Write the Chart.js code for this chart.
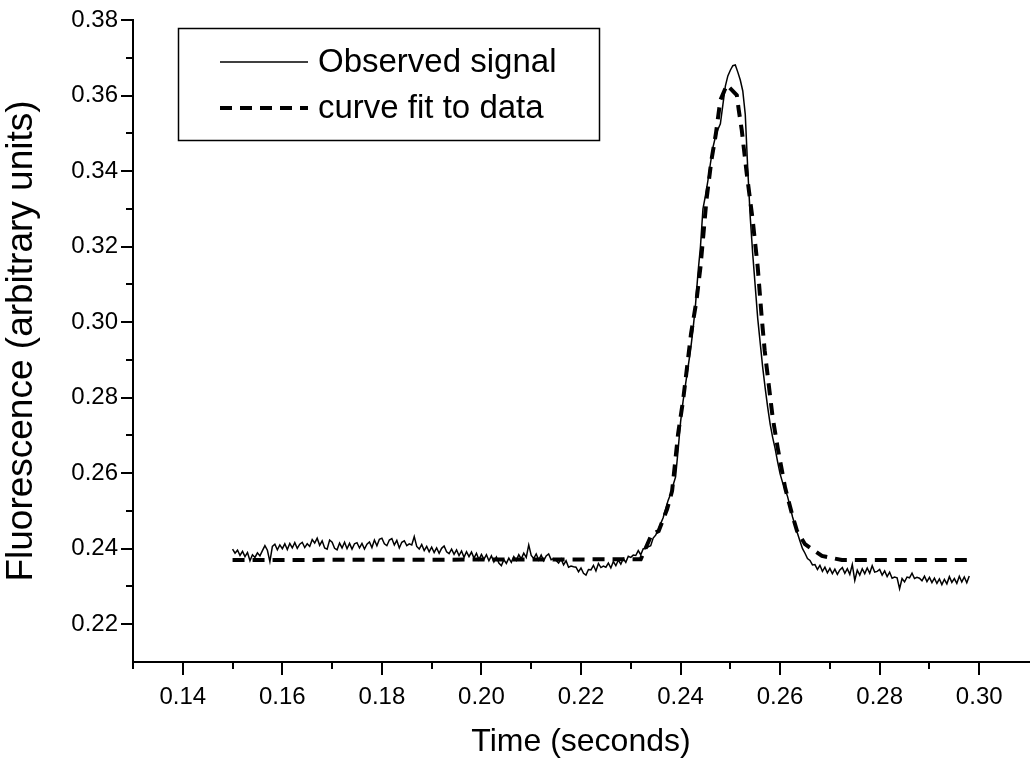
<!DOCTYPE html>
<html>
<head>
<meta charset="utf-8">
<script src="https://cdn.jsdelivr.net/npm/chart.js@4"></script>
<style>
html, body { margin: 0; padding: 0; background: #fff; }
canvas { display: block; }
</style>
</head>
<body>
<canvas id="mychart" width="1030" height="761"></canvas>
<script>
// observed signal, sampled every 0.5 ms from 0.150 s
const sigStart = 0.150;
const sigStep = 0.0005;
const signal = [
  0.2399, 0.2388, 0.2396, 0.2382, 0.2393, 0.2379, 0.2390, 0.2368, 0.2384, 0.2377,
  0.2389, 0.2381, 0.2395, 0.2408, 0.2396, 0.2366, 0.2406, 0.2412, 0.2397, 0.2410,
  0.2400, 0.2413, 0.2398, 0.2414, 0.2402, 0.2416, 0.2401, 0.2412, 0.2417, 0.2403,
  0.2413, 0.2406, 0.2424, 0.2415, 0.2428, 0.2409, 0.2421, 0.2402, 0.2399, 0.2423,
  0.2417, 0.2401, 0.2397, 0.2415, 0.2402, 0.2417, 0.2400, 0.2414, 0.2399, 0.2413,
  0.2416, 0.2402, 0.2414, 0.2399, 0.2412, 0.2418, 0.2403, 0.2423, 0.2408, 0.2425,
  0.2428, 0.2413, 0.2408, 0.2423, 0.2427, 0.2410, 0.2422, 0.2402, 0.2417, 0.2421,
  0.2408, 0.2413, 0.2410, 0.2432, 0.2406, 0.2399, 0.2411, 0.2395, 0.2406, 0.2392,
  0.2404, 0.2390, 0.2402, 0.2388, 0.2401, 0.2407, 0.2392, 0.2387, 0.2399, 0.2385,
  0.2397, 0.2382, 0.2394, 0.2377, 0.2392, 0.2379, 0.2391, 0.2375, 0.2388, 0.2371,
  0.2385, 0.2372, 0.2384, 0.2368, 0.2381, 0.2365, 0.2378, 0.2362, 0.2355, 0.2371,
  0.2361, 0.2375, 0.2364, 0.2379, 0.2369, 0.2384, 0.2373, 0.2388, 0.2377, 0.2410,
  0.2382, 0.2374, 0.2386, 0.2370, 0.2383, 0.2368, 0.2381, 0.2386, 0.2371, 0.2374,
  0.2369, 0.2362, 0.2373, 0.2357, 0.2368, 0.2351, 0.2354, 0.2352, 0.2351, 0.2339,
  0.2349, 0.2335, 0.2330, 0.2345, 0.2344, 0.2356, 0.2341, 0.2361, 0.2350, 0.2354,
  0.2351, 0.2362, 0.2349, 0.2366, 0.2355, 0.2370, 0.2359, 0.2374, 0.2364, 0.2380,
  0.2377, 0.2383, 0.2382, 0.2395, 0.2384, 0.2400, 0.2400, 0.2405, 0.2408, 0.2428,
  0.2436, 0.2450, 0.2466, 0.2482, 0.2505, 0.2528, 0.2545, 0.2568, 0.2590, 0.2660,
  0.2735, 0.2790, 0.2835, 0.2880, 0.2925, 0.2980, 0.3045, 0.3130, 0.3200, 0.3300,
  0.3335, 0.3375, 0.3420, 0.3462, 0.3490, 0.3510, 0.3525, 0.3575, 0.3625, 0.3652,
  0.3667, 0.3679, 0.3681, 0.3662, 0.3641, 0.3612, 0.3550, 0.3405, 0.3278, 0.3180,
  0.3095, 0.3010, 0.2945, 0.2880, 0.2825, 0.2775, 0.2730, 0.2695, 0.2665, 0.2630,
  0.2598, 0.2575, 0.2558, 0.2538, 0.2512, 0.2484, 0.2462, 0.2440, 0.2420, 0.2400,
  0.2388, 0.2374, 0.2369, 0.2357, 0.2358, 0.2345, 0.2356, 0.2340, 0.2351, 0.2336,
  0.2348, 0.2334, 0.2346, 0.2332, 0.2344, 0.2350, 0.2335, 0.2347, 0.2332, 0.2358,
  0.2316, 0.2343, 0.2330, 0.2347, 0.2334, 0.2349, 0.2335, 0.2355, 0.2338, 0.2340,
  0.2345, 0.2330, 0.2341, 0.2326, 0.2338, 0.2322, 0.2325, 0.2323, 0.2294, 0.2321,
  0.2312, 0.2325, 0.2323, 0.2335, 0.2321, 0.2324, 0.2322, 0.2315, 0.2327, 0.2313,
  0.2324, 0.2310, 0.2322, 0.2308, 0.2320, 0.2305, 0.2319, 0.2307, 0.2326, 0.2311,
  0.2321, 0.2308, 0.2327, 0.2312, 0.2325, 0.2310, 0.2328
];

// fitted curve
const fitTime = [0.150, 0.2320, 0.2329, 0.2342, 0.2356, 0.2373, 0.2383, 0.2388, 0.2395, 0.2405,
  0.2413, 0.2421, 0.2432, 0.2440, 0.2446, 0.2452, 0.2462, 0.2471, 0.2480, 0.2493,
  0.2513, 0.2517, 0.2523, 0.2533, 0.2545, 0.2555, 0.2563, 0.2569, 0.2577, 0.2585,
  0.2595, 0.2610, 0.2624, 0.2634, 0.2650, 0.2684, 0.2724, 0.298];
const fitValue = [0.2370, 0.2372, 0.2399, 0.2438, 0.2447, 0.2505, 0.2553, 0.2615, 0.2704, 0.2792,
  0.2880, 0.2969, 0.3057, 0.3146, 0.3234, 0.3323, 0.3429, 0.3499, 0.3588, 0.3628,
  0.3601, 0.3561, 0.3508, 0.3393, 0.3269, 0.3146, 0.3013, 0.2925, 0.2836, 0.2748,
  0.2668, 0.2562, 0.2491, 0.2447, 0.2412, 0.2381, 0.2370, 0.2370];

const xMajor = [0.14, 0.16, 0.18, 0.20, 0.22, 0.24, 0.26, 0.28, 0.30];
const xMinor = [0.13, 0.15, 0.17, 0.19, 0.21, 0.23, 0.25, 0.27, 0.29];
const yMajor = [0.22, 0.24, 0.26, 0.28, 0.30, 0.32, 0.34, 0.36, 0.38];
const yMinor = [0.23, 0.25, 0.27, 0.29, 0.31, 0.33, 0.35, 0.37];

const legendLabels = ['Observed signal', 'curve fit to data'];
const FONT = '"Liberation Sans", Arial, sans-serif';

const sigPoints = signal.map((v, i) => ({ x: sigStart + i * sigStep, y: v }));
const fitPoints = fitTime.map((t, i) => ({ x: t, y: fitValue[i] }));

// short ticks in between the labelled ones
const minorTicks = {
    id: 'minorTicks',
    afterDraw(chart) {
        const ctx = chart.ctx;
        const xs = chart.scales.x;
        const ys = chart.scales.y;
        ctx.save();
        ctx.strokeStyle = '#000';
        ctx.lineWidth = 2;
        ctx.beginPath();
        xMinor.forEach(v => {
            const px = Math.round(xs.getPixelForValue(v));
            ctx.moveTo(px, xs.top);
            ctx.lineTo(px, xs.top + 7);
        });
        yMinor.forEach(v => {
            const py = Math.round(ys.getPixelForValue(v));
            ctx.moveTo(ys.right, py);
            ctx.lineTo(ys.right - 7, py);
        });
        ctx.stroke();
        ctx.restore();
    }
};

// boxed legend in the top left corner of the plot
const boxLegend = {
    id: 'boxLegend',
    afterDraw(chart) {
        const ctx = chart.ctx;
        const a = chart.chartArea;
        const left = a.left + 45, top = a.top + 8;
        const w = 421, h = 112;
        ctx.save();
        ctx.strokeStyle = '#000';
        ctx.lineWidth = 1.5;
        ctx.strokeRect(left + 0.5, top + 0.5, w, h);

        const sx0 = left + 42, sx1 = left + 130;
        const rows = [top + 34, top + 80];
        chart.data.datasets.forEach((ds, i) => {
            ctx.beginPath();
            ctx.lineWidth = ds.borderWidth;
            ctx.setLineDash(ds.borderDash || []);
            ctx.moveTo(sx0, rows[i]);
            ctx.lineTo(sx1, rows[i]);
            ctx.stroke();
        });
        ctx.setLineDash([]);
        ctx.fillStyle = '#000';
        ctx.font = '33px ' + FONT;
        ctx.textBaseline = 'middle';
        legendLabels.forEach((t, i) => ctx.fillText(t, sx1 + 10, rows[i] + 1));
        ctx.restore();
    }
};

const ctx = document.getElementById('mychart');
const myChart = new Chart(ctx, {
    type: 'line',
    data: {
        datasets: [{
            label: legendLabels[0],
            data: sigPoints,
            borderColor: '#000',
            borderWidth: 1.5,
            pointRadius: 0,
            tension: 0,
        }, {
            label: legendLabels[1],
            data: fitPoints,
            borderColor: '#000',
            borderWidth: 4,
            borderDash: [12, 8],
            pointRadius: 0,
            tension: 0,
        }]
    },
    plugins: [minorTicks, boxLegend],
    options: {
        responsive: false,
        animation: false,
        events: [],
        layout: {
            padding: { top: 20, right: 1, left: 0, bottom: 0 }
        },
        scales: {
            x: {
                type: 'linear',
                min: 0.13,
                max: 0.31,
                afterBuildTicks: s => { s.ticks = xMajor.map(v => ({ value: v })); },
                afterFit: s => { s.height = 99; },
                border: { color: '#000', width: 2 },
                grid: { drawOnChartArea: false, color: '#000', lineWidth: 2, tickLength: 13 },
                ticks: {
                    color: '#000',
                    padding: 8,
                    maxRotation: 0,
                    font: { family: FONT, size: 24 },
                    callback: v => v.toFixed(2)
                },
                title: {
                    display: true,
                    text: 'Time (seconds)',
                    color: '#000',
                    font: { family: FONT, size: 32 },
                    padding: { top: 8, bottom: 0 }
                }
            },
            y: {
                type: 'linear',
                min: 0.21,
                max: 0.38,
                afterBuildTicks: s => { s.ticks = yMajor.map(v => ({ value: v })); },
                afterFit: s => { s.width = 133; },
                border: { color: '#000', width: 2 },
                grid: { drawOnChartArea: false, color: '#000', lineWidth: 2, tickLength: 12 },
                ticks: {
                    color: '#000',
                    padding: 3,
                    font: { family: FONT, size: 24 },
                    callback: v => v.toFixed(2)
                },
                title: {
                    display: true,
                    text: 'Fluorescence (arbitrary units)',
                    color: '#000',
                    font: { family: FONT, size: 37 },
                    padding: { top: 0, bottom: 2 }
                }
            }
        },
        plugins: {
            legend: { display: false },
            tooltip: { enabled: false }
        }
    }
});
</script>
</body>
</html>
